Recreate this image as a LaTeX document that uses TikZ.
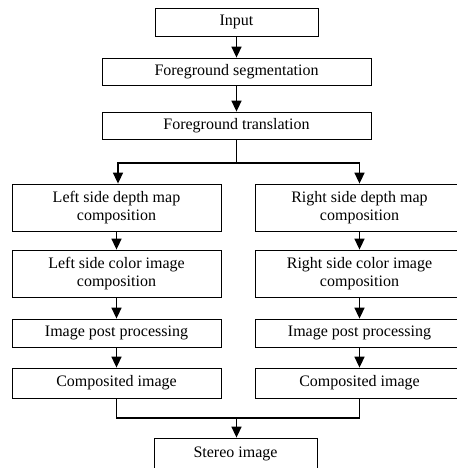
\documentclass[tikz,border=0pt]{standalone}
\usepackage{fontspec}
\setmainfont{Liberation Serif}
\usetikzlibrary{arrows.meta}
\begin{document}
\begin{tikzpicture}[x=1pt,y=-1pt,
  box/.style={draw, line width=0.8pt, inner sep=0pt, align=center,
    font=\fontsize{16}{18}\selectfont},
  conn/.style={line width=1.6pt, -{Triangle[width=10pt,length=11pt]}},
  plainconn/.style={line width=1.6pt}]
\clip (0,0) rectangle (457,468);
\node[box, minimum width=163pt, minimum height=28pt] (in) at (236.5,22) {Input};
\node[box, minimum width=269pt, minimum height=27pt] (seg) at (236.5,71.5) {Foreground segmentation};
\node[box, minimum width=269pt, minimum height=27pt] (tr) at (236.5,125.5) {Foreground translation};
\node[box, minimum width=209pt, minimum height=47pt] (l1) at (116.5,207.5) {Left side depth map\\composition};
\node[box, minimum width=209pt, minimum height=47pt] (r1) at (359.5,207.5) {Right side depth map\\composition};
\node[box, minimum width=209pt, minimum height=47pt] (l2) at (116.5,273.5) {Left side color image\\composition};
\node[box, minimum width=209pt, minimum height=47pt] (r2) at (359.5,273.5) {Right side color image\\composition};
\node[box, minimum width=209pt, minimum height=28pt] (l3) at (116.5,333) {Image post processing};
\node[box, minimum width=209pt, minimum height=28pt] (r3) at (359.5,333) {Image post processing};
\node[box, minimum width=209pt, minimum height=30pt] (l4) at (116.5,383) {Composited image};
\node[box, minimum width=209pt, minimum height=30pt] (r4) at (359.5,383) {Composited image};
\node[box, minimum width=163pt, minimum height=32pt] (st) at (235.5,454) {Stereo image};
\coordinate (bj) at (236.5,163);
\coordinate (mj) at (236.5,418);
\draw[conn] (in) -- (seg);
\draw[conn] (seg) -- (tr);
\draw[plainconn] (tr.south) -- (bj);
\draw[conn] (bj) -| ([xshift=1.5pt]l1.north);
\draw[conn] (bj) -| (r1.north);
\draw[conn] (l1) -- (l2);
\draw[conn] (r1) -- (r2);
\draw[conn] (l2) -- (l3);
\draw[conn] (r2) -- (r3);
\draw[conn] (l3) -- (l4);
\draw[conn] (r3) -- (r4);
\draw[plainconn] (l4.south) |- (mj) -| (r4.south);
\draw[conn] (mj) -- (mj |- st.north);
\end{tikzpicture}
\end{document}
